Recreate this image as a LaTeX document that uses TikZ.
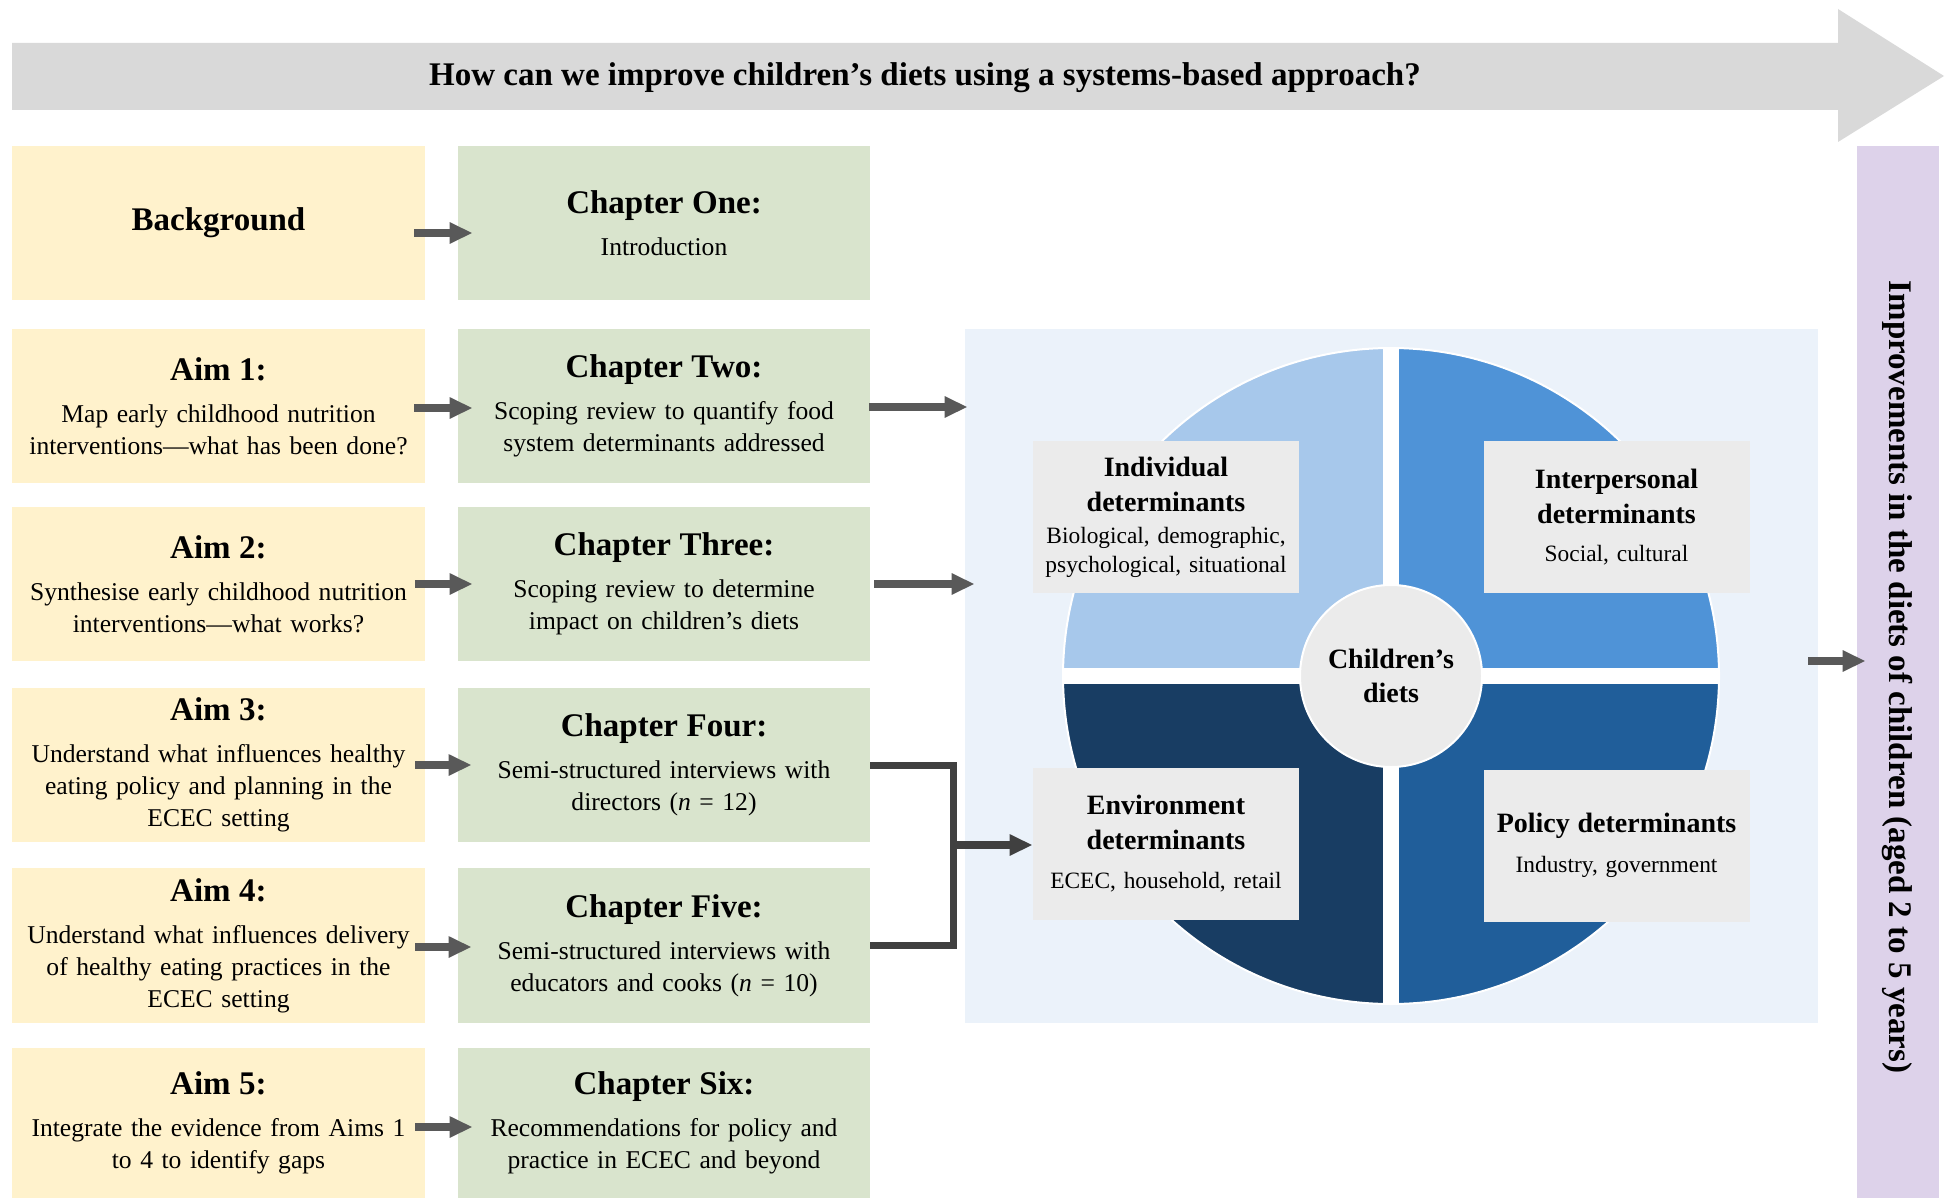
\documentclass[tikz,border=0pt]{standalone}
\usepackage{fontspec}
\setmainfont{Liberation Serif}
\usetikzlibrary{arrows.meta,calc}
\definecolor{yel}{HTML}{FFF2CC}
\definecolor{grn}{HTML}{D9E4CD}
\definecolor{titlegray}{HTML}{D9D9D9}
\definecolor{purp}{HTML}{DDD2EA}
\definecolor{panelcol}{HTML}{EBF2FA}
\definecolor{qa}{HTML}{A7C8EB}
\definecolor{qb}{HTML}{4F93D7}
\definecolor{qc}{HTML}{183D63}
\definecolor{qd}{HTML}{205E9A}
\definecolor{detbox}{HTML}{EBEBEB}
\definecolor{conncol}{HTML}{595959}
\definecolor{elbcol}{HTML}{404040}
\newcommand\hdfont{\fontsize{16.5}{20}\selectfont\bfseries}
\newcommand\dhfont{\fontsize{14}{17}\selectfont\bfseries}
\newcommand\dbfont{\fontsize{11.7}{14.5}\selectfont}
\tikzset{
  ybox/.style={fill=yel, minimum width=206.5pt, minimum height=77pt, text width=204pt, align=center, inner sep=0pt, font=\fontsize{12.8}{16}\selectfont},
  gbox/.style={ybox, fill=grn, minimum width=206pt},
  dbox/.style={fill=detbox, minimum width=133pt, minimum height=76pt, text width=131pt, align=center, inner sep=0pt, font=\dbfont},
  conn/.style={draw=conncol, line width=4pt, -{Triangle[length=11.5pt,width=10pt]}},
  elbow/.style={draw=elbcol, line width=3.5pt}
}
\begin{document}
\begin{tikzpicture}[x=0.5pt,y=-0.5pt]
\useasboundingbox (0,0) rectangle (1952,1198);
% title arrow
\fill[titlegray] (12,43) -- (1838,43) -- (1838,9) -- (1944,76) -- (1838,142) -- (1838,110) -- (12,110) -- cycle;
\node[font=\hdfont] (title) at (925,78) {How can we improve children’s diets using a systems-based approach?};
% outcome bar
\node[fill=purp, minimum width=41pt, minimum height=526pt, inner sep=0pt] (out) at (1898,672) {};
\node[rotate=-90, font=\fontsize{16.5}{20}\selectfont\bfseries] (outtxt) at (1897,677) {Improvements in the diets of children (aged 2 to 5 years)};
% left columns
\node[ybox] (bg) at (218.5,223) {\raisebox{-2pt}{\hdfont Background}};
\node[gbox] (c1) at (664,223) {{\hdfont Chapter One:}\\[5pt]Introduction};
\node[ybox] (a1) at (218.5,406) {{\hdfont Aim 1:}\\[5pt]Map early childhood nutrition\\interventions—what has been done?};
\node[gbox] (c2) at (664,406) {{\hdfont Chapter Two:}\\[5pt]Scoping review to quantify food\\system determinants addressed};
\node[ybox] (a2) at (218.5,584) {{\hdfont Aim 2:}\\[5pt]Synthesise early childhood nutrition\\interventions—what works?};
\node[gbox] (c3) at (664,584) {{\hdfont Chapter Three:}\\[5pt]Scoping review to determine\\impact on children’s diets};
\node[ybox] (a3) at (218.5,765) {{\hdfont Aim 3:}\\[5pt]Understand what influences healthy\\eating policy and planning in the\\ECEC setting};
\node[gbox] (c4) at (664,765) {{\hdfont Chapter Four:}\\[5pt]Semi-structured interviews with\\directors (\textit{n} = 12)};
\node[ybox, minimum height=77.5pt] (a4) at (218.5,945.5) {{\hdfont Aim 4:}\\[5pt]Understand what influences delivery\\of healthy eating practices in the\\ECEC setting};
\node[gbox, minimum height=77.5pt] (c5) at (664,945.5) {{\hdfont Chapter Five:}\\[5pt]Semi-structured interviews with\\educators and cooks (\textit{n} = 10)};
\node[ybox, minimum height=75pt] (a5) at (218.5,1123) {{\hdfont Aim 5:}\\[5pt]Integrate the evidence from Aims 1\\to 4 to identify gaps};
\node[gbox, minimum height=75pt] (c6) at (664,1123) {{\hdfont Chapter Six:}\\[5pt]Recommendations for policy and\\practice in ECEC and beyond};
% panel with circle
\node[fill=panelcol, minimum width=426.5pt, minimum height=347pt, inner sep=0pt] (panel) at (1391.5,676) {};
\begin{scope}
  \clip (1391,676) circle[radius=164pt];
  \fill[qa] (1391,676) rectangle (1000,300);
  \fill[qb] (1391,676) rectangle (1800,300);
  \fill[qc] (1391,676) rectangle (1000,1050);
  \fill[qd] (1391,676) rectangle (1800,1050);
  \draw[white, line width=8pt] (1391,300) -- (1391,1050);
  \draw[white, line width=8pt] (1000,676) -- (1800,676);
\end{scope}
\draw[white, line width=1pt] (1391,676) circle[radius=164pt];
\node[dbox] (ind) at (1166,517) {{\dhfont Individual}\\[3pt]{\dhfont determinants}\\[1.5pt]Biological, demographic,\\psychological, situational};
\node[dbox] (inter) at (1616.5,517) {{\dhfont Interpersonal}\\[3pt]{\dhfont determinants}\\[4.5pt]Social, cultural};
\node[dbox] (env) at (1166,843.5) {{\dhfont Environment}\\[3pt]{\dhfont determinants}\\[5pt]ECEC, household, retail};
\node[dbox] (pol) at (1616.5,845.5) {{\dhfont Policy determinants}\\[5.5pt]Industry, government};
\node[circle, fill=detbox, draw=white, line width=1pt, minimum size=91pt, inner sep=0pt, align=center, font=\dhfont] (ctr) at (1391,676) {Children’s\\diets};
% connectors
\draw[conn] ($(bg.east)+(-11,10)$) -- ($(c1.west)+(15,10)$);
\draw[conn] ($(a1.east)+(-11,2)$) -- ($(c2.west)+(15,2)$);
\draw[conn] ($(a2.east)+(-10,0)$) -- ($(c3.west)+(15,0)$);
\draw[conn] ($(a3.east)+(-10,0)$) -- ($(c4.west)+(14,0)$);
\draw[conn] ($(a4.east)+(-10,1.5)$) -- ($(c5.west)+(14,1.5)$);
\draw[conn] ($(a5.east)+(-10,4)$) -- ($(c6.west)+(15,4)$);
\draw[conn] ($(c2.east)+(-1,1)$) -- ($(c2.east -| panel.west)+(3,1)$);
\draw[conn] ($(c3.east)+(4,0)$) -- ($(c3.east -| panel.west)+(10,0)$);
\draw[elbow] (c4.east) -- ++(83,0) |- (c5.east);
\coordinate (j) at (953,845);
\draw[conn, draw=elbcol] (j) -- (j -| env.west);
\draw[conn] ($(panel.east)+(-10,-15)$) -- ($(panel.east -| out.west)+(9,-15)$);
\end{tikzpicture}
\end{document}
